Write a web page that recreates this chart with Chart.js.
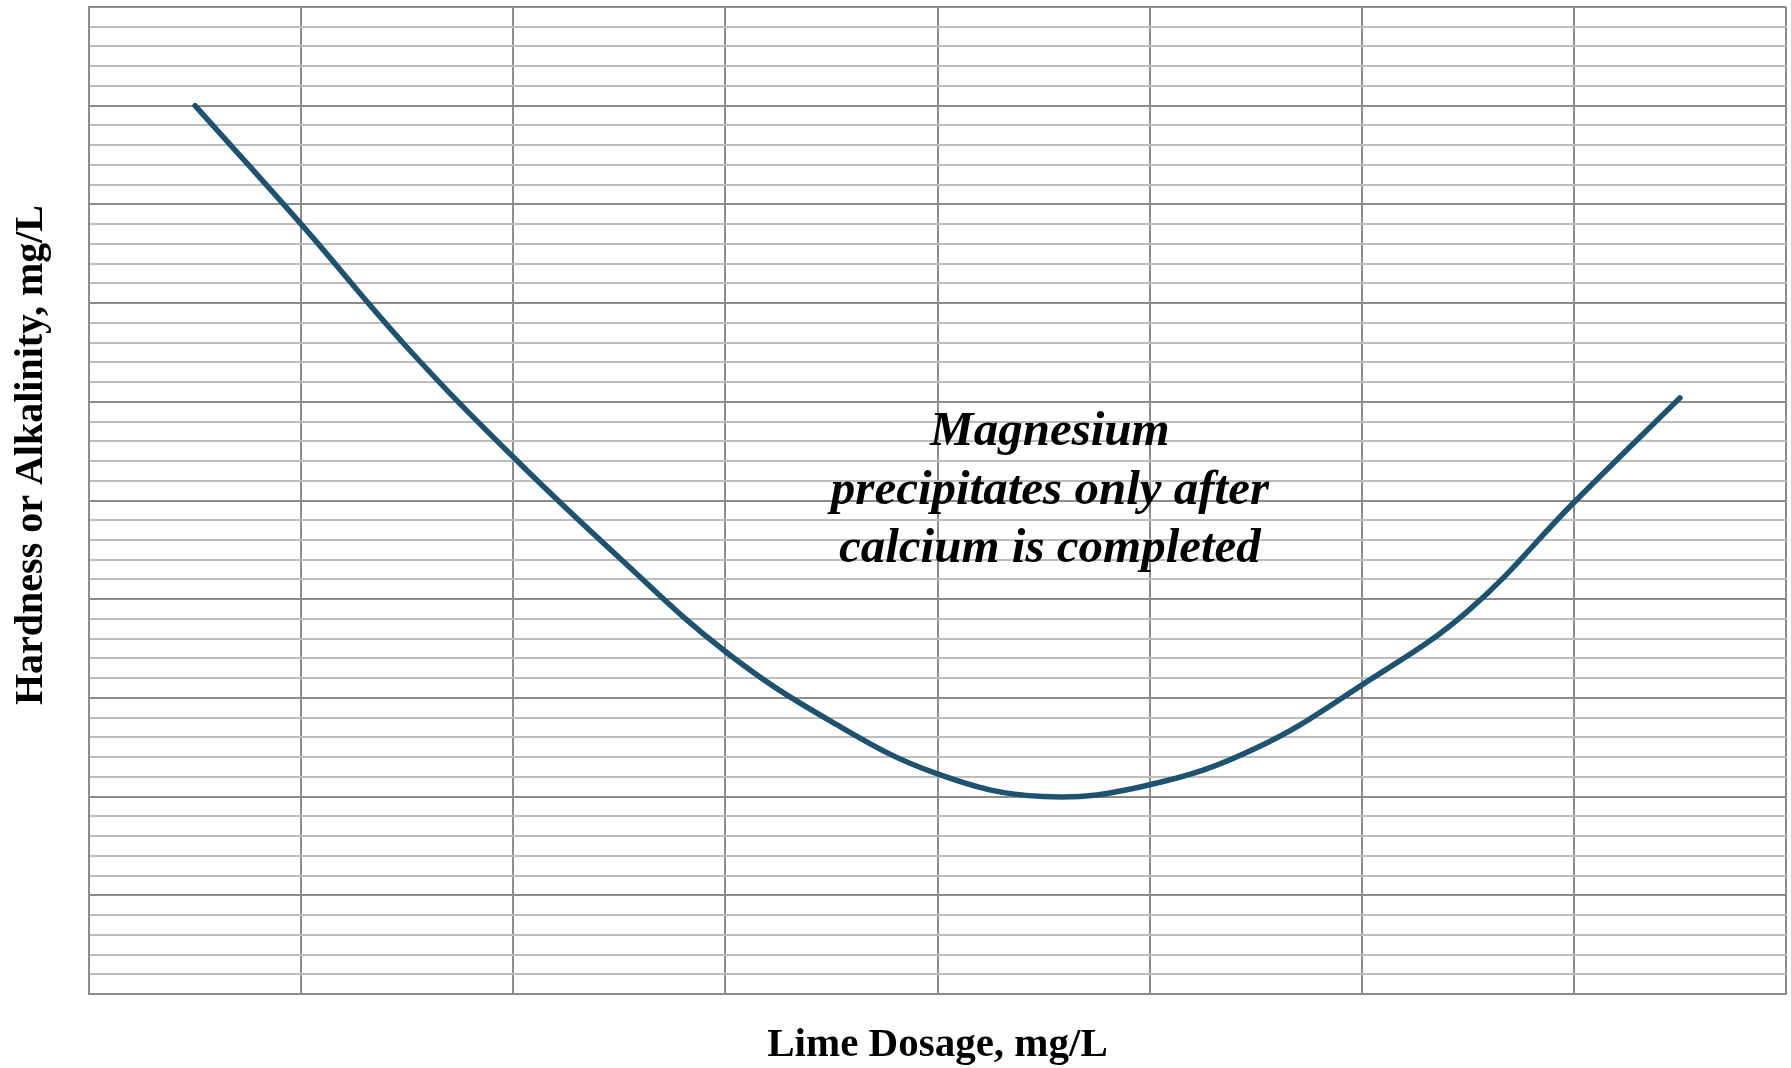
<!DOCTYPE html>
<html>
<head>
<meta charset="utf-8">
<script src="https://cdn.jsdelivr.net/npm/chart.js@4"></script>
<style>
  body { margin: 0; background: #fff; }
  #wrap { width: 1791px; height: 1068px; }
</style>
</head>
<body>
<div id="wrap"><canvas id="limeChart"></canvas></div>
<script>
// lime dosage (grid units) vs hardness (grid units)
const doseX = [0.5, 1.0, 1.5, 2.0, 2.5, 3.0, 3.5, 4.0, 4.5, 5.0, 5.5, 6.0, 6.5, 7.0, 7.5];
const hardnessY = [9.0, 7.8, 6.55, 5.44, 4.42, 3.47, 2.76, 2.23, 2.0, 2.12, 2.49, 3.13, 3.88, 4.98, 6.04];

const noteLines = ['Magnesium', 'precipitates only after', 'calcium is completed'];
const noteX = 4.53;
const noteY = [5.69, 5.09, 4.51];

const xTitle = 'Lime Dosage, mg/L';
const yTitle = 'Hardness or Alkalinity, mg/L';

const serif = '"Liberation Serif", "DejaVu Serif", serif';

const textPlugin = {
  id: 'textPlugin',
  afterDatasetsDraw(chart) {
    const { ctx, scales: { x, y } } = chart;
    ctx.save();
    ctx.fillStyle = '#000';
    ctx.textAlign = 'center';
    ctx.textBaseline = 'middle';
    ctx.font = 'italic bold 49px ' + serif;
    noteLines.forEach((line, i) => {
      ctx.fillText(line, x.getPixelForValue(noteX), y.getPixelForValue(noteY[i]));
    });
    // y axis title
    ctx.translate(32, 455);
    ctx.rotate(-Math.PI / 2);
    ctx.font = 'bold 40px ' + serif;
    ctx.fillText(yTitle, 0, 0);
    ctx.restore();
  }
};

const isMajor = v => Math.abs(v - Math.round(v)) < 1e-6;

const ctx = document.getElementById('limeChart').getContext('2d');
new Chart(ctx, {
  type: 'line',
  data: {
    datasets: [{
      data: doseX.map((d, i) => ({ x: d, y: hardnessY[i] })),
      borderColor: '#1f526e',
      borderWidth: 5.5,
      borderCapStyle: 'round',
      tension: 0.4,
      pointRadius: 0,
      fill: false
    }]
  },
  options: {
    responsive: true,
    maintainAspectRatio: false,
    animation: false,
    layout: { padding: { top: 7, right: 5, left: 0, bottom: 0 } },
    plugins: {
      legend: { display: false },
      tooltip: { enabled: false }
    },
    scales: {
      x: {
        type: 'linear',
        min: 0,
        max: 8,
        ticks: { display: false, stepSize: 1 },
        grid: { color: '#8c8c8c', lineWidth: 2, drawTicks: false },
        border: { color: '#8c8c8c', width: 2 },
        title: {
          display: true,
          text: xTitle,
          color: '#000',
          font: { family: serif, size: 41, weight: 'bold', lineHeight: 1 },
          padding: { top: 0, bottom: 2 }
        },
        afterFit(scale) { scale.height = 74; }
      },
      y: {
        type: 'linear',
        min: 0,
        max: 10,
        ticks: { display: false, stepSize: 0.2, maxTicksLimit: 60 },
        grid: {
          color: c => isMajor(c.tick.value) ? '#8c8c8c' : '#bdbdbd',
          lineWidth: 2,
          drawTicks: false
        },
        border: { color: '#8c8c8c', width: 2 },
        afterFit(scale) { scale.width = 89; }
      }
    }
  },
  plugins: [textPlugin]
});
</script>
</body>
</html>
